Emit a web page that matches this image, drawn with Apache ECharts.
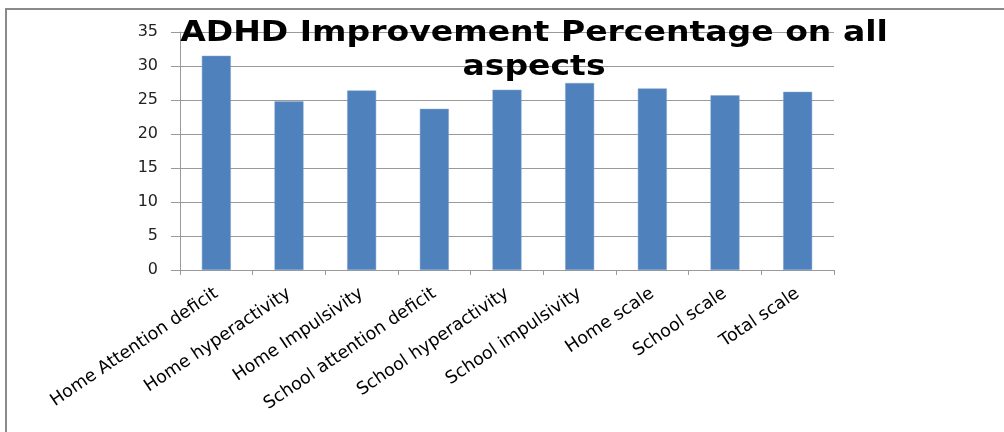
<!DOCTYPE html>
<html><head><meta charset="utf-8">
<script src="https://cdn.jsdelivr.net/npm/echarts@6/dist/echarts.min.js"></script>
<style>html,body{margin:0;padding:0;background:#fff}#c{width:1004px;height:432px}</style>
</head><body><div id="c"></div>
<script>
const titleText = "ADHD Improvement Percentage on all\naspects";
const categories = ["Home Attention deficit","Home hyperactivity","Home Impulsivity","School attention deficit","School hyperactivity","School impulsivity","Home scale","School scale","Total scale"];
const values = [31.5, 24.8, 26.4, 23.7, 26.5, 27.5, 26.7, 25.7, 26.2];
const yMin = 0, yMax = 35, yStep = 5;

const chart = echarts.init(document.getElementById('c'), null, {renderer:'canvas'});
chart.setOption({
  animation:false,
  backgroundColor:'#fff',
  graphic:[
    {type:'rect', shape:{x:6,y:9,width:1100,height:500}, style:{fill:'none', stroke:'#8a8a8a', lineWidth:2}, z:-1},
    {type:'text', x:534, y:16, scaleX:1.14, z:100,
     style:{text:titleText, align:'center', verticalAlign:'top', fill:'#000',
       font:'bold 29px "DejaVu Sans"', lineHeight:34}}
  ],
  grid:{left:180, right:170, top:32, bottom:162},
  xAxis:{type:'category', data:categories,
    axisLine:{lineStyle:{color:'#9a9a9a', width:1}},
    axisTick:{show:true, length:5, lineStyle:{color:'#9a9a9a'}},
    axisLabel:{rotate:34, interval:0, margin:22, fontFamily:'DejaVu Sans', fontSize:17.5, color:'#000'}},
  yAxis:{type:'value', min:yMin, max:yMax, interval:yStep,
    axisLine:{show:true, lineStyle:{color:'#9a9a9a'}},
    axisTick:{show:true, length:9, lineStyle:{color:'#9a9a9a'}},
    splitLine:{lineStyle:{color:'#9a9a9a', width:1}},
    axisLabel:{margin:22, fontFamily:'DejaVu Sans', fontSize:16, color:'#222'}},
  series:[{type:'bar', data:values, barWidth:29,
    itemStyle:{color:'#4F81BD', borderColor:'#7ea3cf', borderWidth:0.5}}]
});
</script></body></html>
